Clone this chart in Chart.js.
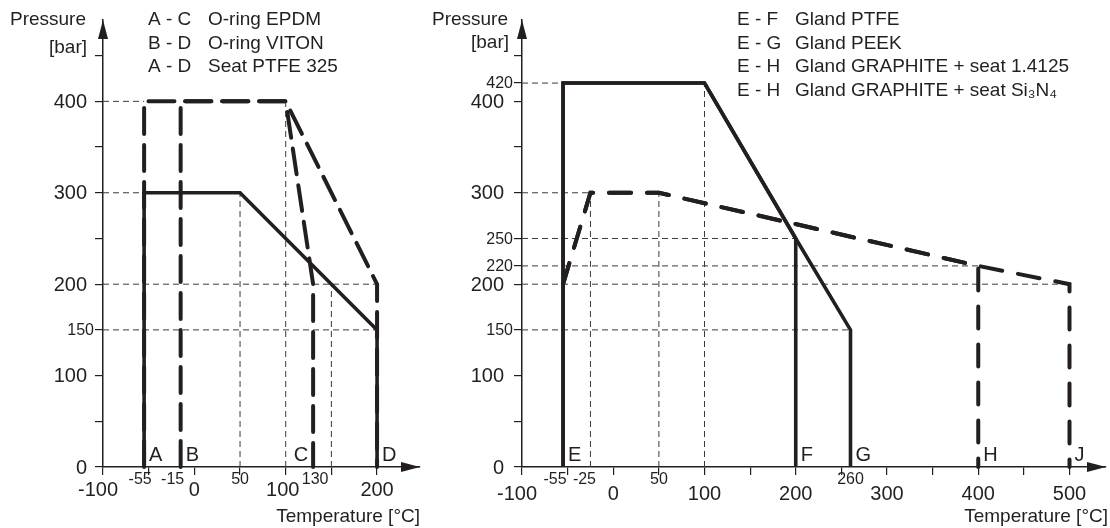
<!DOCTYPE html>
<html><head><meta charset="utf-8">
<script src="https://cdn.jsdelivr.net/npm/chart.js@4.4.1/dist/chart.umd.min.js"></script>
<style>
html,body{margin:0;padding:0;background:#fff;}
#wrap{position:relative;width:1110px;height:528px;overflow:hidden;}
canvas{position:absolute;top:0;}
#cL{left:0}
#cR{left:425px}
</style></head><body>
<div id="wrap"><canvas id="cL" width="425" height="528"></canvas><canvas id="cR" width="685" height="528"></canvas></div>
<script>
// ---- left diagram: o-rings + PTFE seat
const seatPtfeX=[-55,-55,50,200,200], seatPtfeY=[0,300,300,150,0];
const epdmX=[-55,-55,100,130,130], epdmY=[0,400,400,200,0];
const vitonX=[-15,-15,100,200,200], vitonY=[0,400,400,200,0];
const leftCodes=['A - C','B - D','A - D'];
const leftNames=['O-ring EPDM','O-ring VITON','Seat PTFE 325'];
const leftLetters=['A','B','C','D'], leftLetterX=[-55,-15,130,200];
const leftXTicks=[-100,-50,0,50,100,150,200], leftXBig=[-100,0,100,200], leftXSmall=[-55,-15,50,130];
const leftYTicks=[0,50,100,150,200,250,300,350,400,450], leftYBig=[0,100,200,300,400], leftYSmall=[150];
// guide lines [x1,y1,x2,y2]
const leftGuides=[[-100,400,-55,400],[-100,300,-55,300],[-100,200,200,200],[-100,150,200,150],[50,0,50,300],[100,0,100,400],[150,0,150,200]];

// ---- right diagram: glands
const ptfeX=[-55,-55,100,200,200], ptfeY=[0,420,420,250,0];
const peekX=[-55,-55,100,200,260,260], peekY=[0,420,420,250,150,0];
const graphiteX=[-55,-25,50,400,400], graphiteY=[200,300,300,220,0];
const si3n4X=[-55,-25,50,400,500,500], si3n4Y=[200,300,300,220,200,0];
const rightCodes=['E - F','E - G','E - H','E - H'];
const rightNames=['Gland PTFE','Gland PEEK','Gland GRAPHITE + seat 1.4125','Gland GRAPHITE + seat Si\u2083N\u2084'];
const rightLetters=['E','F','G','H','J'], rightLetterX=[-55,200,260,400,500];
const rightXTicks=[-100,-50,0,50,100,150,200,250,300,350,400,450,500], rightXBig=[-100,0,100,200,300,400,500], rightXSmall=[-55,-25,50,260];
const rightYTicks=[0,50,100,150,200,220,250,300,350,400,420,450], rightYBig=[0,100,200,300,400], rightYSmall=[150,220,250,420];
const rightGuides=[[-100,420,-55,420],[-100,300,-25,300],[-100,250,200,250],[-100,220,400,220],[-100,200,500,200],[-100,150,260,150],[-25,0,-25,300],[50,0,50,300],[100,0,100,420]];

const INK='#231f20', FONT='"Liberation Sans", Arial, Helvetica, sans-serif';

function pts(xs,ys){return xs.map((x,i)=>({x,y:ys[i]}));}
function curve(xs,ys,dash){return {data:pts(xs,ys),borderColor:INK,borderWidth:dash?4:3.6,borderDash:dash||[],borderCapStyle:dash?'round':'butt',borderJoinStyle:'miter',pointRadius:0,showLine:true,tension:0,fill:false,order:1,clip:false};}
function guide(g){return {data:[{x:g[0],y:g[1]},{x:g[2],y:g[3]}],borderColor:'#3a3a3a',borderWidth:1,borderDash:[6,4],pointRadius:0,showLine:true,fill:false,order:10,clip:false};}

// axis arrows, tick labels, legend block, letters
const decor={id:'decor',afterDraw(ch){
  const o=ch.options.plugins.decor,c=ch.ctx,a=ch.chartArea,xs=ch.scales.x,ys=ch.scales.y;
  c.save();c.fillStyle=INK;
  c.beginPath();c.moveTo(a.left,a.top);c.lineTo(a.left-5,a.top+19);c.lineTo(a.left+5,a.top+19);c.closePath();c.fill();
  c.beginPath();c.moveTo(a.right,a.bottom);c.lineTo(a.right-19,a.bottom-5);c.lineTo(a.right-19,a.bottom+5);c.closePath();c.fill();
  c.textBaseline='middle';c.textAlign='center';
  c.font='20px '+FONT;
  o.xBig.forEach(v=>c.fillText(String(v),xs.getPixelForValue(v)+(o.nudge[v]||0),o.xBigY));
  c.font='16px '+FONT;
  o.xSmall.forEach(v=>c.fillText(String(v),xs.getPixelForValue(v)+(o.nudgeS[v]||0),480));
  c.textAlign='right';
  c.font='20px '+FONT;
  o.yBig.forEach(v=>c.fillText(String(v),a.left-o.yGap,ys.getPixelForValue(v)+1));
  c.font='16px '+FONT;
  o.ySmall.forEach(v=>c.fillText(String(v),a.left-9,ys.getPixelForValue(v)+1));
  c.font='19px '+FONT;
  c.fillText('Pressure',o.pressX,20);c.fillText('[bar]',o.pressX+1,o.barY);
  c.fillText('Temperature [°C]',o.tempX,517);
  c.textAlign='left';
  o.codes.forEach((t,i)=>{c.fillText(t,o.codeX,20+i*23.5);c.fillText(o.names[i],o.nameX,20+i*23.5);});
  c.font='20px '+FONT;
  o.letters.forEach((t,i)=>{const px=xs.getPixelForValue(o.letterX[i]);
    if(o.leftSide.includes(t)){c.textAlign='right';c.fillText(t,px-5,455);}else{c.textAlign='left';c.fillText(t,px+5,455);}});
  c.restore();
}};

function axis(ticks,min,max,fit){return {type:'linear',min,max,
  afterBuildTicks:s=>{s.ticks=ticks.map(v=>({value:v}));},
  afterFit:fit,
  ticks:{display:false},
  grid:{drawOnChartArea:false,drawTicks:true,tickLength:8,color:INK,lineWidth:1.2},
  border:{display:true,color:INK,width:1.5}};}

function build(id,sets,cfg){
  return new Chart(document.getElementById(id),{type:'scatter',
    data:{datasets:sets},
    options:{responsive:false,animation:false,devicePixelRatio:1,
      layout:{padding:{left:0,top:20,right:cfg.padR,bottom:0}},
      plugins:{legend:{display:false},tooltip:{enabled:false},decor:cfg.decor},
      scales:{
        x:axis(cfg.xTicks,-100,cfg.xMax,s=>{s.height=61;}),
        y:axis(cfg.yTicks,0,489,s=>{s.width=cfg.yW;})
      }},
    plugins:[decor]});
}

build('cL',[curve(seatPtfeX,seatPtfeY),curve(epdmX,epdmY,[26,11]),curve(vitonX,vitonY,[26,11])].concat(leftGuides.map(guide)),
  {padR:5,xMax:247,yW:103,xTicks:leftXTicks,yTicks:leftYTicks,
   decor:{xBig:leftXBig,xSmall:leftXSmall,yBig:leftYBig,ySmall:leftYSmall,nudge:{'-100':-5,'100':-3},nudgeS:{'-55':-4,'-15':-8,'130':2},
     xBigY:490,yGap:16,pressX:86,barY:48,tempX:420,codes:leftCodes,names:leftNames,codeX:148,nameX:208,
     letters:leftLetters,letterX:leftLetterX,leftSide:['C']}});

build('cR',[curve(ptfeX,ptfeY),curve(peekX,peekY),curve(graphiteX,graphiteY,[22,16]),curve(si3n4X,si3n4Y,[22,16])].concat(rightGuides.map(guide)),
  {padR:4,xMax:540,yW:97,xTicks:rightXTicks,yTicks:rightYTicks,
   decor:{xBig:rightXBig,xSmall:rightXSmall,yBig:rightYBig,ySmall:rightYSmall,nudge:{'-100':-5},nudgeS:{'-55':-8,'-25':-6},
     xBigY:494,yGap:18,pressX:83,barY:43,tempX:683,codes:rightCodes,names:rightNames,codeX:312,nameX:370,
     letters:rightLetters,letterX:rightLetterX,leftSide:[]}});
</script>
</body></html>
